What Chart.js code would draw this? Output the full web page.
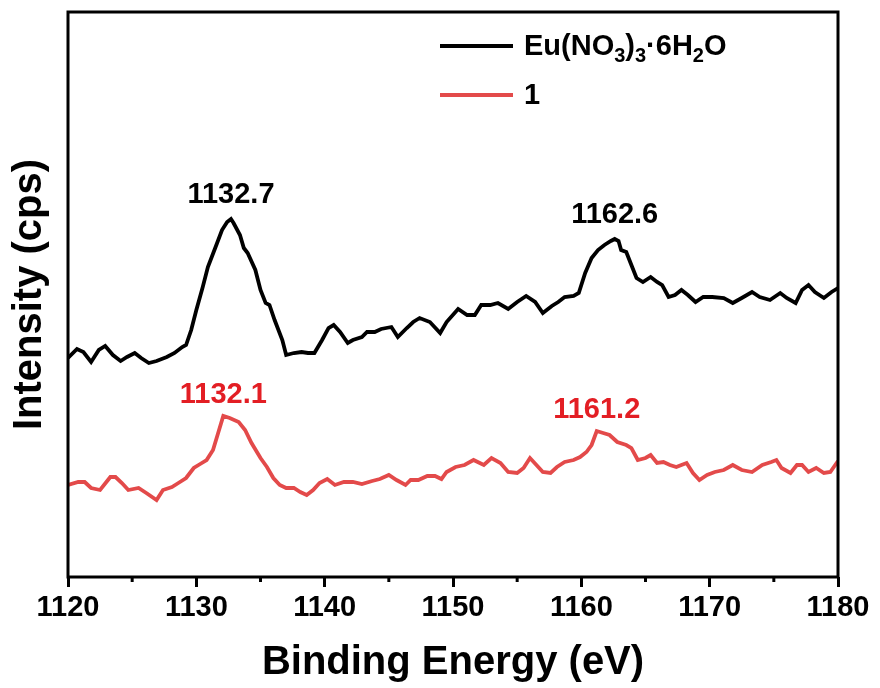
<!DOCTYPE html>
<html>
<head>
<meta charset="utf-8">
<script src="https://cdn.jsdelivr.net/npm/chart.js@4.4.1/dist/chart.umd.min.js"></script>
<style>
  html, body { margin: 0; padding: 0; background: #fff; }
  #wrap { width: 880px; height: 688px; }
</style>
</head>
<body>
<div id="wrap"><canvas id="xps"></canvas></div>
<script>
/* ===== Eu 3d XPS spectra ===== */

const FONT = "'Liberation Sans', Arial, sans-serif";
const BLACK = '#000000';
const RED_LINE = '#e34a4a';
const RED_TEXT = '#e31e24';

const xTicks = [1120, 1130, 1140, 1150, 1160, 1170, 1180];
const xMinorTicks = [1125, 1135, 1145, 1155, 1165, 1175];

// Eu(NO3)3·6H2O
const saltEnergy = [
  1120.0, 1120.7, 1121.2, 1121.8, 1122.4, 1122.9, 1123.5, 1124.1, 1124.6, 1125.2,
  1125.7, 1126.3, 1126.9, 1127.7, 1128.3, 1128.9, 1129.2, 1129.6, 1130.0, 1130.5,
  1130.9, 1131.5, 1132.0, 1132.4, 1132.7, 1132.9, 1133.4, 1133.7, 1134.0, 1134.6,
  1135.0, 1135.4, 1135.7, 1136.1, 1136.7, 1137.0, 1137.6, 1138.2, 1138.7, 1139.2,
  1139.8, 1140.3, 1140.7, 1141.2, 1141.8, 1142.2, 1142.9, 1143.3, 1143.9, 1144.4,
  1145.2, 1145.7, 1146.4, 1146.9, 1147.4, 1148.2, 1149.0, 1149.5, 1150.4, 1151.1,
  1151.7, 1152.2, 1152.9, 1153.5, 1154.3, 1155.0, 1155.7, 1156.4, 1157.0, 1157.7,
  1158.2, 1158.7, 1159.4, 1159.8, 1160.3, 1160.8, 1161.3, 1161.8, 1162.3, 1162.6,
  1162.9, 1163.1, 1163.5, 1163.9, 1164.3, 1164.8, 1165.4, 1165.9, 1166.3, 1166.8,
  1167.3, 1167.8, 1168.3, 1168.9, 1169.5, 1170.2, 1171.1, 1171.8, 1172.5, 1173.3,
  1173.9, 1174.7, 1175.5, 1176.0, 1176.7, 1177.2, 1177.7, 1178.2, 1178.9, 1179.5,
  1180.0
];
const saltCounts = [
  219, 228, 225, 215, 227, 231, 222, 216, 220, 224,
  219, 214, 216, 220, 224, 230, 232, 247, 267, 290,
  310, 330, 347, 355, 358, 354, 342, 329, 324, 307,
  287, 274, 272, 257, 237, 222, 224, 225, 224, 224,
  237, 249, 252, 245, 234, 237, 240, 245, 245, 248,
  250, 240, 249, 255, 259, 255, 244, 255, 268, 262,
  262, 272, 272, 274, 268, 275, 281, 275, 264, 271,
  275, 280, 281, 284, 304, 319, 327, 332, 336, 338,
  336, 327, 325, 312, 299, 295, 300, 295, 292, 280,
  282, 287, 282, 275, 280, 280, 279, 274, 279, 285,
  280, 277, 284, 279, 274, 287, 292, 285, 279, 285,
  289
];

// compound 1
const cmpdEnergy = [
  1120.0, 1120.8, 1121.3, 1121.8, 1122.5, 1123.3, 1123.7, 1124.2, 1124.7, 1125.5,
  1126.1, 1126.9, 1127.4, 1128.1, 1128.6, 1129.2, 1129.8, 1130.3, 1130.8, 1131.3,
  1131.7, 1132.1, 1132.6, 1133.3, 1133.8, 1134.3, 1135.0, 1135.5, 1136.0, 1136.5,
  1137.0, 1137.6, 1138.1, 1138.6, 1139.1, 1139.6, 1140.2, 1140.8, 1141.5, 1142.2,
  1142.9, 1143.7, 1144.3, 1145.0, 1145.6, 1146.3, 1146.7, 1147.3, 1148.0, 1148.6,
  1149.1, 1149.5, 1150.2, 1150.9, 1151.6, 1152.4, 1153.0, 1153.7, 1154.3, 1155.0,
  1155.5, 1156.0, 1156.5, 1157.0, 1157.6, 1158.1, 1158.7, 1159.4, 1159.9, 1160.4,
  1160.8, 1161.2, 1161.7, 1162.2, 1162.8, 1163.5, 1163.9, 1164.4, 1165.0, 1165.4,
  1165.9, 1166.4, 1166.9, 1167.4, 1167.8, 1168.2, 1168.7, 1169.2, 1169.8, 1170.4,
  1171.1, 1171.8, 1172.5, 1173.3, 1174.1, 1174.8, 1175.2, 1175.6, 1176.3, 1176.8,
  1177.2, 1177.7, 1178.3, 1178.9, 1179.4, 1180.0
];
const cmpdCounts = [
  92, 95, 95, 89, 87, 100, 100, 94, 87, 89,
  84, 77, 87, 90, 94, 99, 109, 113, 117, 127,
  144, 161, 159, 155, 147, 134, 119, 110, 99, 92,
  89, 89, 85, 82, 87, 94, 98, 92, 95, 95,
  93, 96, 98, 102, 97, 92, 97, 97, 101, 101,
  98, 105, 110, 112, 117, 112, 119, 114, 105, 104,
  109, 119, 112, 105, 104, 110, 115, 117, 120, 125,
  132, 146, 144, 142, 135, 132, 129, 117, 119, 122,
  114, 115, 112, 110, 112, 114, 104, 97, 102, 105,
  107, 112, 107, 105, 112, 115, 117, 109, 104, 112,
  112, 105, 109, 104, 105, 116
];

const saltPeaks = [1132.7, 1162.6];
const cmpdPeaks = [1132.1, 1161.2];

function toPoints(xs, ys) {
  return xs.map((x, i) => ({ x: x, y: ys[i] }));
}

function countAt(xs, ys, e) {
  const i = xs.indexOf(e);
  return ys[i];
}

// frame on all four sides plus the short ticks between majors
const framePlugin = {
  id: 'frame',
  afterDraw(chart) {
    const { ctx, chartArea: a } = chart;
    const xs = chart.scales.x;
    ctx.save();
    ctx.strokeStyle = BLACK;
    ctx.lineWidth = 3;
    ctx.strokeRect(a.left, a.top, a.right - a.left, a.bottom - a.top);
    xMinorTicks.forEach(v => {
      const px = xs.getPixelForValue(v);
      ctx.beginPath();
      ctx.moveTo(px, a.bottom);
      ctx.lineTo(px, a.bottom + 5);
      ctx.stroke();
    });
    ctx.restore();
  }
};

// peak positions written above each maximum
const peakPlugin = {
  id: 'peaks',
  afterDatasetsDraw(chart) {
    const { ctx } = chart;
    const xs = chart.scales.x, ys = chart.scales.y;
    ctx.save();
    ctx.font = 'bold 29px ' + FONT;
    ctx.textAlign = 'center';
    ctx.textBaseline = 'middle';
    saltPeaks.forEach(e => {
      ctx.fillStyle = BLACK;
      const y = ys.getPixelForValue(countAt(saltEnergy, saltCounts, e));
      ctx.fillText(e.toFixed(1), xs.getPixelForValue(e), y - 24);
    });
    cmpdPeaks.forEach(e => {
      ctx.fillStyle = RED_TEXT;
      const y = ys.getPixelForValue(countAt(cmpdEnergy, cmpdCounts, e));
      ctx.fillText(e.toFixed(1), xs.getPixelForValue(e), y - 21);
    });
    ctx.restore();
  }
};

// legend with subscripts, drawn as text runs
const legendRows = [
  { color: BLACK, runs: [['Eu(NO', 0], ['3', 1], [')', 0], ['3', 1], ['\u00b76H', 0], ['2', 1], ['O', 0]] },
  { color: RED_LINE, runs: [['1', 0]] }
];

const legendPlugin = {
  id: 'subLegend',
  afterDraw(chart) {
    const { ctx } = chart;
    ctx.save();
    legendRows.forEach((row, r) => {
      const cy = 46 + r * 49;
      ctx.strokeStyle = row.color;
      ctx.lineWidth = 4;
      ctx.beginPath();
      ctx.moveTo(440, cy);
      ctx.lineTo(513, cy);
      ctx.stroke();
      let x = 524;
      const base = cy + 9;
      ctx.fillStyle = BLACK;
      ctx.textBaseline = 'alphabetic';
      ctx.textAlign = 'left';
      row.runs.forEach(([t, sub]) => {
        ctx.font = sub ? 'bold 20px ' + FONT : 'bold 29px ' + FONT;
        ctx.fillText(t, x, sub ? base + 7 : base);
        x += ctx.measureText(t).width;
      });
    });
    ctx.restore();
  }
};

const ctx = document.getElementById('xps').getContext('2d');

new Chart(ctx, {
  type: 'line',
  data: {
    datasets: [
      {
        label: 'Eu(NO3)3·6H2O',
        data: toPoints(saltEnergy, saltCounts),
        borderColor: BLACK,
        borderWidth: 3.8,
        pointRadius: 0,
        tension: 0
      },
      {
        label: '1',
        data: toPoints(cmpdEnergy, cmpdCounts),
        borderColor: RED_LINE,
        borderWidth: 3.8,
        pointRadius: 0,
        tension: 0
      }
    ]
  },
  options: {
    responsive: true,
    maintainAspectRatio: false,
    animation: false,
    layout: { padding: { top: 12, right: 42, bottom: 0, left: 0 } },
    plugins: {
      legend: { display: false },
      tooltip: { enabled: false }
    },
    scales: {
      x: {
        type: 'linear',
        min: 1120,
        max: 1180,
        afterBuildTicks(scale) {
          scale.ticks = xTicks.map(v => ({ value: v }));
        },
        afterFit(scale) { scale.height = 111; },
        border: { display: false },
        grid: {
          drawOnChartArea: false,
          drawTicks: true,
          tickLength: 10,
          tickWidth: 3,
          tickColor: BLACK
        },
        ticks: {
          autoSkip: false,
          maxRotation: 0,
          padding: 4,
          color: BLACK,
          font: { family: FONT, size: 29, weight: 'bold' },
          callback: v => String(v)
        },
        title: {
          display: true,
          text: 'Binding Energy (eV)',
          color: BLACK,
          padding: { top: 0, bottom: 1 },
          font: { family: FONT, size: 40, weight: 'bold' }
        }
      },
      y: {
        min: 0,
        max: 565,
        afterFit(scale) { scale.width = 68; },
        border: { display: false },
        grid: { display: false },
        ticks: { display: false },
        title: {
          display: true,
          text: 'Intensity (cps)',
          color: BLACK,
          padding: { top: 6, bottom: 0 },
          font: { family: FONT, size: 40, weight: 'bold' }
        }
      }
    }
  },
  plugins: [framePlugin, peakPlugin, legendPlugin]
});
</script>
</body>
</html>
